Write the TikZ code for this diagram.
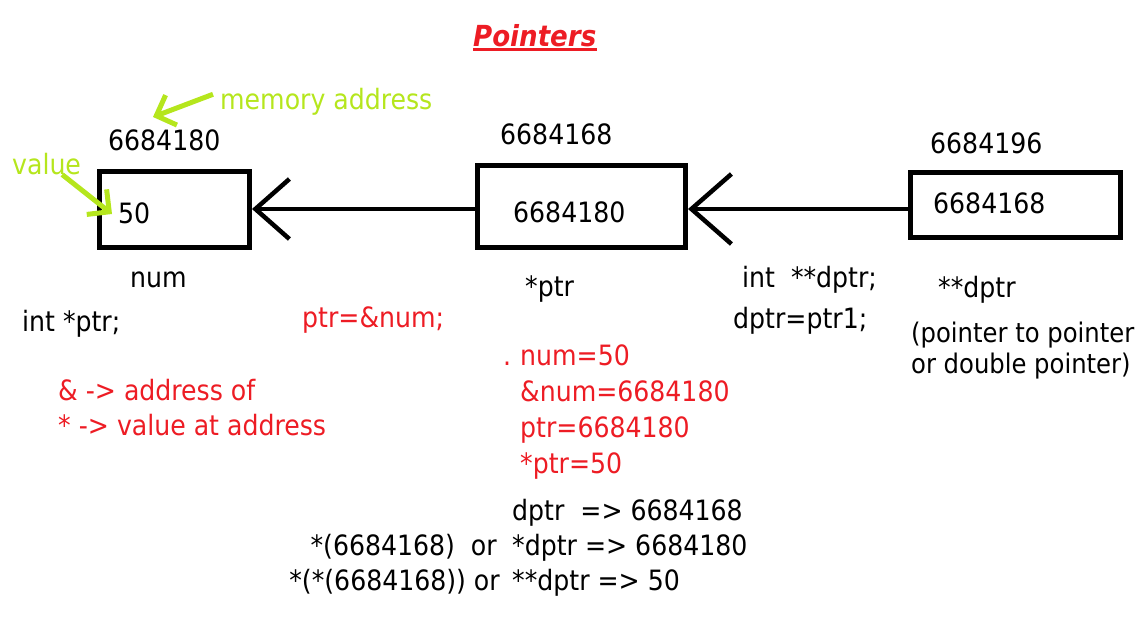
\documentclass[tikz,border=0pt]{standalone}
\usepackage{fontspec}
\setmainfont{DejaVu Sans Condensed}
\usetikzlibrary{arrows.meta, positioning}
\definecolor{paintred}{HTML}{ED1C24}
\definecolor{paintgreen}{HTML}{B5E61D}

\begin{document}
\begin{tikzpicture}[
        x=1pt, y=-1pt,
        txt/.style={anchor=base west, inner sep=0pt, font=\fontsize{28}{32}\selectfont},
        redtxt/.style={txt, text=paintred},
        greentxt/.style={txt, text=paintgreen},
        rtxt/.style={txt, anchor=base east},
        box/.style={rectangle, draw=black, line width=5pt, inner sep=0pt},
        arr/.style={-{Straight Barb[length=34pt, width=60pt]}, line width=4.5pt, black},
        greenarr/.style={-{Straight Barb[length=16pt, width=32pt]}, line width=5pt, paintgreen},
    ]
    \useasboundingbox (0,0) rectangle (1146,640);
    % title
    \node[txt, text=paintred, font=\fontsize{29}{32}\selectfont\bfseries\itshape] (title) at (473,46) {Pointers};
    \draw[paintred, line width=3pt] ([yshift=-3pt]title.base west) -- ([yshift=-3pt]title.base east);
    % memory boxes
    \node[box, minimum width=150pt, minimum height=76pt] (numbox) at (174.5,209) {};
    \node[box, minimum width=208pt, minimum height=82pt] (ptrbox) at (581.5,206.5) {};
    \node[box, minimum width=210pt, minimum height=65pt] (dptrbox) at (1015.5,205) {};
    \node[txt] (numval) at (118,223) {50};
    \node[txt] (ptrval) at (513,222) {6684180};
    \node[txt] (dptrval) at (933,213) {6684168};
    % addresses
    \node[txt] (numaddr) at (108,150) {6684180};
    \node[txt] (ptraddr) at (500,144) {6684168};
    \node[txt] (dptraddr) at (930,153) {6684196};
    % names
    \node[txt] (numname) at (130,287) {num};
    \node[txt] (ptrname) at (525,296) {*ptr};
    \node[txt] (dptrname) at (938,297) {**dptr};
    \node[txt, font=\fontsize{27}{32}\selectfont] (dptrnote) at (911,342) {(pointer to pointer};
    \node[txt, font=\fontsize{27}{32}\selectfont] (dptrnote2) at ([yshift=-31pt]dptrnote.base west) {or double pointer)};
    % declarations
    \node[txt] (ptrdecl) at (22,331) {int *ptr;};
    \node[redtxt] (ptrassign) at (302,327) {ptr=\&num;};
    \node[txt] (dptrdecl) at (742,287) {int\ \ **dptr;};
    \node[txt] (dptrassign) at (733,328) {dptr=ptr1;};
    % operators
    \node[redtxt] (ampnote) at (58,400) {\& -> address of};
    \node[redtxt] (starnote) at ([yshift=-35pt]ampnote.base west) {* -> value at address};
    % values
    \node[redtxt] (dot) at (503,365) {.};
    \node[redtxt] (numis) at (520,365) {num=50};
    \node[redtxt] (addris) at ([yshift=-36pt]numis.base west) {\&num=6684180};
    \node[redtxt] (ptris) at ([yshift=-36pt]addris.base west) {ptr=6684180};
    \node[redtxt] (derefis) at ([yshift=-36pt]ptris.base west) {*ptr=50};
    \node[txt] (dptris) at (512,520) {dptr\ \ => 6684168};
    \node[txt] (dderefis) at ([yshift=-35pt]dptris.base west) {*dptr => 6684180};
    \node[txt] (ddderefis) at ([yshift=-35pt]dderefis.base west) {**dptr => 50};
    \node[rtxt] (derefor) at (497,555) {*(6684168)\ \ or};
    \node[rtxt] (dderefor) at (500,590) {*(*(6684168)) or};
    % green notes
    \node[greentxt] (memlabel) at (220,109) {memory address};
    \node[greentxt] (valuelabel) at (12,174) {value};
    \coordinate (memtip) at (153,117);
    \coordinate (valtip) at (112,214);
    \draw[greenarr] ([xshift=-7pt, yshift=7pt]memlabel.west) -- (memtip);
    \draw[greenarr] ([xshift=-19pt]valuelabel.south east) -- (valtip);
    % pointer arrows
    \draw[arr] (ptrbox.west |- numbox.east) -- (numbox.east);
    \draw[arr, -{Straight Barb[length=40pt, width=70pt]}] ([yshift=-4pt]dptrbox.west) -- ([yshift=-4pt]dptrbox.west -| ptrbox.east);
\end{tikzpicture}
\end{document}
